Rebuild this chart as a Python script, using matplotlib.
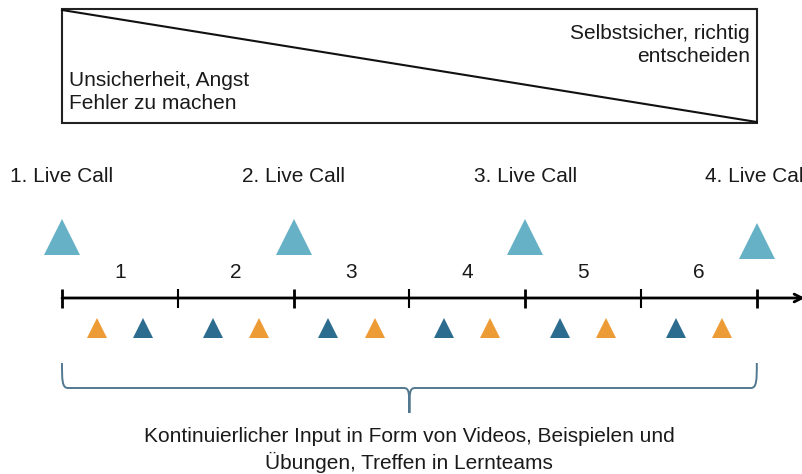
import matplotlib
matplotlib.use("Agg")
import matplotlib.pyplot as plt
from matplotlib.patches import Rectangle, PathPatch
from matplotlib.path import Path

plt.rcParams['font.family'] = ['Liberation Sans', 'DejaVu Sans']

# Zeitachse in Wochen (0..6)
week_ticks = [0, 1, 2, 3, 4, 5, 6]
week_labels = ['1', '2', '3', '4', '5', '6']
live_call_weeks = [0, 2, 4, 6]
live_call_labels = ['1. Live Call', '2. Live Call', '3. Live Call', '4. Live Call']
orange_pos = [0.3, 1.7, 2.7, 3.7, 4.7, 5.7]
blue_pos = [0.7, 1.3, 2.3, 3.3, 4.3, 5.3]

LIGHT = '#67B1C7'
ORANGE = '#EC9B35'
DARK = '#2C6C8F'
BRACE = '#52788F'

fig = plt.figure(figsize=(8.03, 4.74), dpi=100)
ax = fig.add_axes([0, 0, 1, 1])
unit = 115.8  # pixels per week
ax.set_xlim(-62 / unit, (803 - 62) / unit)
ax.set_ylim(474, 0)
ax.axis('off')

# Kasten mit Diagonale
ax.add_patch(Rectangle((0, 9), 6, 114, fill=False, ec='#222222', lw=1.5))
ax.plot([0, 6], [10, 122], color='#111111', lw=1.5)
ax.text(7 / unit, 92, 'Unsicherheit, Angst\nFehler zu machen', ha='left', va='center',
        fontsize=15, linespacing=1.3, color='#1a1a1a')
ax.text(6 - 7 / unit, 45, 'Selbstsicher, richtig\nentscheiden', ha='right', va='center',
        multialignment='right', fontsize=15, linespacing=1.3, color='#1a1a1a')

# Live Calls
for w, lab in zip(live_call_weeks, live_call_labels):
    ax.text(w, 176, lab, ha='center', va='center', fontsize=15, color='#1a1a1a')
ax.plot(live_call_weeks, [236.5, 236.5, 236.5, 240.5], linestyle='none', marker='^',
        markersize=26, color=LIGHT, markeredgewidth=0)

# Wochennummern
for i, lab in enumerate(week_labels):
    ax.text(i + 0.5, 273, lab, ha='center', va='center', fontsize=15, color='#1a1a1a')

# Achse mit Pfeil
ax.annotate('', xy=(805 / unit - 62 / unit, 298), xytext=(0, 298),
            annotation_clip=False,
            arrowprops=dict(arrowstyle='->', lw=2, color='black',
                            mutation_scale=14, shrinkA=0, shrinkB=0))
for t in week_ticks:
    ax.plot([t, t], [289, 308], color='black', lw=2 if t % 2 == 0 else 1.5,
            solid_capstyle='butt')

# kontinuierlicher Input
ax.plot(orange_pos, [328] * len(orange_pos), linestyle='none', marker='^',
        markersize=14.5, color=ORANGE, markeredgewidth=0)
ax.plot(blue_pos, [328] * len(blue_pos), linestyle='none', marker='^',
        markersize=14.5, color=DARK, markeredgewidth=0)

# geschweifte Klammer
x0, x1, xm = 0, 6, 3
d = 6 / unit
verts = [(x0, 363), (x0, 380), (x0, 388), (x0 + d, 388),
         (xm - d, 388),
         (xm, 388), (xm, 392), (xm, 413),
         (xm, 392), (xm, 388), (xm + d, 388),
         (x1 - d, 388),
         (x1, 388), (x1, 380), (x1, 363)]
codes = [Path.MOVETO, Path.CURVE4, Path.CURVE4, Path.CURVE4,
         Path.LINETO,
         Path.CURVE4, Path.CURVE4, Path.CURVE4,
         Path.CURVE4, Path.CURVE4, Path.CURVE4,
         Path.LINETO,
         Path.CURVE4, Path.CURVE4, Path.CURVE4]
ax.add_patch(PathPatch(Path(verts, codes), fill=False, ec=BRACE, lw=1.4))

ax.text(xm, 450, 'Kontinuierlicher Input in Form von Videos, Beispielen und\n'
        'Übungen, Treffen in Lernteams', ha='center', va='center', fontsize=15,
        linespacing=1.3, color='#1a1a1a')

fig.savefig('out.png', dpi=100)
